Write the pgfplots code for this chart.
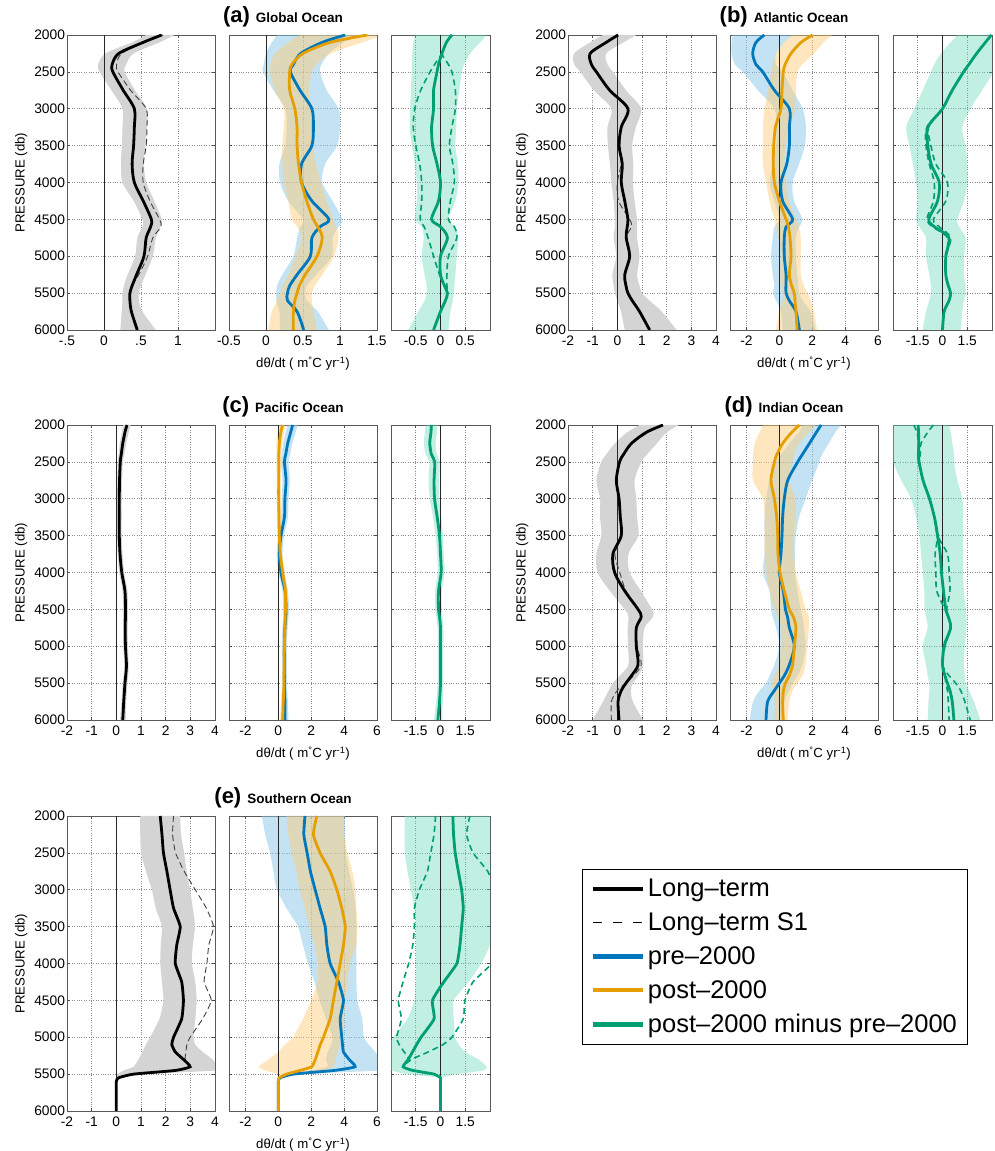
\documentclass[border=0pt]{standalone}
\usepackage{fontspec}
\setmainfont{Liberation Sans}
\usepackage{pgfplots}
\pgfplotsset{compat=1.18}
\usepackage{pgfplotstable}
\usepgfplotslibrary{fillbetween}

\definecolor{preblue}{RGB}{0,119,187}
\definecolor{postorange}{RGB}{230,159,0}
\definecolor{diffgreen}{RGB}{0,158,115}
\definecolor{bandblue}{RGB}{135,200,235}
\definecolor{bandorange}{RGB}{255,200,110}
\definecolor{bandgreen}{RGB}{100,215,180}
\definecolor{bandgray}{RGB}{212,212,212}

% p: pressure (db); lt/lo/hi: long-term and its band; s1: long-term S1
% pre/plo/phi: pre-2000; post/qlo/qhi: post-2000; d/dlo/dhi: difference; da/db: S1 difference
\pgfplotstableread{
p     lt    lo    hi    s1    pre   plo   phi   post  qlo   qhi   d     dlo   dhi   da    db
2000  0.78  0.57  0.95  0.80  1.07  0.15  1.30  1.37  0.46  1.60  0.23 -0.51  0.94  0.23  0.23
2100  0.53  0.38  0.75  0.55  0.76  0.08  1.05  0.87  0.30  1.30  0.12 -0.55  0.80  0.12  0.12
2250  0.20  0.02  0.40  0.24  0.47  0.00  0.85  0.50  0.12  0.88  0.03 -0.57  0.60  0.03  0.03
2400  0.11 -0.08  0.30  0.17  0.37 -0.03  0.75  0.35  0.06  0.68 -0.04 -0.58  0.48 -0.12  0.16
2500  0.12 -0.06  0.28  0.19  0.33 -0.04  0.73  0.32  0.05  0.62 -0.07 -0.58  0.43 -0.21  0.23
2750  0.26  0.10  0.42  0.36  0.46  0.10  0.82  0.32  0.12  0.58 -0.14 -0.60  0.38 -0.40  0.30
3000  0.41  0.25  0.58  0.57  0.62  0.26  0.98  0.39  0.24  0.62 -0.14 -0.61  0.33 -0.52  0.30
3250  0.41  0.25  0.58  0.58  0.64  0.28  1.00  0.42  0.24  0.64 -0.18 -0.62  0.32 -0.55  0.23
3500  0.40  0.24  0.56  0.57  0.62  0.26  0.96  0.42  0.22  0.64 -0.16 -0.58  0.30 -0.50  0.18
3750  0.38  0.23  0.54  0.53  0.48  0.18  0.80  0.44  0.22  0.68 -0.07 -0.52  0.35 -0.42  0.25
4000  0.41  0.25  0.57  0.53  0.48  0.19  0.76  0.48  0.24  0.74  0.00 -0.48  0.36 -0.38  0.28
4250  0.53  0.40  0.68  0.62  0.62  0.30  0.90  0.55  0.30  0.82 -0.04 -0.48  0.30 -0.38  0.20
4500  0.64  0.52  0.78  0.75  0.85  0.50  1.03  0.64  0.35  0.91 -0.18 -0.51  0.16 -0.41  0.16
4600  0.63  0.52  0.76  0.77  0.73  0.46  0.98  0.70  0.42  0.95  0.00 -0.38  0.30 -0.33  0.28
4750  0.57  0.45  0.70  0.66  0.62  0.42  0.90  0.76  0.48  0.98  0.14 -0.34  0.36 -0.25  0.33
5000  0.54  0.42  0.66  0.59  0.60  0.37  0.89  0.69  0.40  0.92  0.00 -0.38  0.33 -0.14  0.16
5250  0.44  0.32  0.56  0.47  0.42  0.22  0.68  0.53  0.30  0.76  0.00 -0.32  0.30 -0.02  0.13
5400  0.38  0.27  0.50  0.38  0.32  0.15  0.55  0.45  0.22  0.66  0.08 -0.28  0.28  0.08  0.13
5500  0.35  0.25  0.47  0.35  0.29  0.14  0.53  0.42  0.19  0.62  0.14 -0.28  0.27  0.14  0.14
5600  0.35  0.25  0.47  0.35  0.29  0.14  0.55  0.39  0.15  0.62  0.10 -0.32  0.25  0.10  0.10
5750  0.37  0.24  0.52  0.37  0.42  0.18  0.70  0.37  0.08  0.64  0.00 -0.45  0.20  0.00  0.00
6000  0.45  0.22  0.70  0.45  0.51  0.19  0.85  0.37  0.03  0.69 -0.14 -0.65  0.16 -0.14 -0.14
}\globaltab

\pgfplotstableread{
p     lt    lo    hi    s1    pre   plo   phi   post  qlo   qhi   d     dlo   dhi   da    db
2000  0.03 -0.58  0.77  0.03 -0.91 -2.84  0.81  2.03  0.80  3.20  2.96  0.90  3.20  2.96  2.96
2100 -0.45 -1.10  0.25 -0.45 -1.42 -2.90  0.30  1.32  0.30  2.70  2.60  0.50  3.20  2.60  2.60
2250 -1.10 -1.75 -0.45 -1.10 -1.62 -2.90 -0.20  0.71 -0.20  2.10  2.07 -0.10  3.20  2.07  2.07
2400 -1.05 -1.75 -0.40 -1.05 -1.42 -2.70 -0.20  0.35 -0.40  1.40  1.60 -0.50  3.20  1.60  1.60
2500 -0.85 -1.50 -0.18 -0.85 -1.01 -2.23  0.20  0.24 -0.50  1.10  1.28 -0.70  3.10  1.28  1.28
2750 -0.31 -0.95  0.35 -0.31 -0.30 -1.30  0.80  0.16 -0.70  1.00  0.59 -1.20  2.40  0.59  0.59
3000  0.43 -0.24  0.97  0.43  0.61 -0.30  1.42  0.10 -0.90  1.00  0.00 -1.70  1.70  0.00  0.00
3250  0.16 -0.40  0.75  0.16  0.61 -0.20  1.62 -0.24 -1.00  0.60 -0.89 -2.20  1.20 -0.95 -0.85
3500  0.07 -0.38  0.60  0.10  0.61 -0.20  1.55 -0.34 -1.00  0.40 -0.89 -2.00  1.40 -1.00 -0.70
3750  0.20 -0.30  0.65  0.15  0.45 -0.40  1.20 -0.37 -1.00  0.30 -0.69 -1.80  1.50 -0.80 -0.40
4000  0.16 -0.24  0.63  0.00  0.10 -0.60  0.80 -0.30 -0.80  0.40 -0.20 -1.60  1.50 -0.50  0.30
4250  0.30 -0.15  0.70  0.05  0.20 -0.30  0.90  0.00 -0.60  0.60 -0.30 -1.50  1.30 -0.55  0.20
4500  0.43 -0.10  0.80  0.50  0.81  0.00  1.40  0.41 -0.30  1.00 -0.83 -1.60  0.90 -0.95 -0.55
4600  0.40 -0.10  0.80  0.57  0.41 -0.30  1.20  0.55 -0.20  1.20 -0.49 -1.40  1.00 -0.60 -0.20
4750  0.36 -0.15  0.80  0.36  0.30 -0.40  1.00  0.65 -0.05  1.30  0.39 -1.00  1.40  0.30  0.50
5000  0.50 -0.05  0.90  0.50  0.30 -0.50  1.00  0.71  0.10  1.30  0.20 -1.00  1.30  0.20  0.20
5250  0.30 -0.20  0.80  0.30  0.41 -0.40  1.10  0.61  0.00  1.30  0.20 -0.80  1.30  0.20  0.20
5400  0.35 -0.15  0.90  0.35  0.40 -0.30  1.15  0.75  0.10  1.50  0.35 -0.70  1.40  0.35  0.35
5500  0.43 -0.10  1.00  0.43  0.41 -0.40  1.20  0.91  0.20  1.70  0.49 -0.70  1.40  0.49  0.49
5600  0.60  0.00  1.30  0.60  0.60 -0.20  1.40  0.95  0.20  1.90  0.40 -0.80  1.30  0.40  0.40
5750  0.90  0.15  1.80  0.90  1.01  0.10  1.90  1.01  0.00  2.10  0.10 -1.00  1.20  0.10  0.10
6000  1.31  0.30  2.40  1.31  1.22  0.20  2.20  1.08 -0.20  2.30  0.00 -1.20  1.10  0.00  0.00
}\atltab

\pgfplotstableread{
p     lt    lo    hi    pre   plo   phi   post  qlo   qhi   d     dlo   dhi
2000  0.43  0.28  0.58  0.87  0.55  1.20  0.26  0.05  0.45 -0.55 -0.90 -0.20
2100  0.35  0.22  0.50  0.75  0.45  1.05  0.15 -0.05  0.35 -0.58 -0.95 -0.22
2250  0.26  0.14  0.40  0.57  0.30  0.85  0.06 -0.12  0.25 -0.65 -1.00 -0.30
2400  0.20  0.09  0.32  0.45  0.20  0.72  0.03 -0.12  0.18 -0.55 -0.90 -0.22
2500  0.16  0.06  0.27  0.37  0.15  0.62  0.02 -0.12  0.16 -0.35 -0.68 -0.05
2750  0.13  0.04  0.23  0.47  0.25  0.70  0.02 -0.10  0.14 -0.39 -0.72 -0.08
3000  0.12  0.03  0.22  0.40  0.20  0.62  0.02 -0.10  0.14 -0.36 -0.65 -0.08
3250  0.12  0.03  0.22  0.37  0.17  0.58  0.04 -0.08  0.16 -0.20 -0.45  0.05
3500  0.12  0.03  0.22  0.16  0.00  0.35  0.06 -0.06  0.18 -0.06 -0.30  0.15
3750  0.15  0.06  0.25  0.06 -0.10  0.25  0.12  0.00  0.24  0.00 -0.20  0.20
4000  0.22  0.12  0.32  0.16  0.00  0.35  0.26  0.12  0.40  0.04 -0.18  0.25
4250  0.35  0.25  0.45  0.41  0.25  0.58  0.43  0.30  0.56 -0.12 -0.32  0.08
4500  0.37  0.27  0.47  0.47  0.30  0.65  0.43  0.30  0.56 -0.12 -0.32  0.08
4600  0.37  0.27  0.47  0.45  0.30  0.62  0.42  0.30  0.55 -0.06 -0.25  0.12
4750  0.36  0.27  0.46  0.40  0.25  0.56  0.40  0.28  0.52  0.00 -0.18  0.18
5000  0.37  0.28  0.47  0.37  0.22  0.52  0.37  0.25  0.50  0.00 -0.18  0.18
5250  0.41  0.32  0.50  0.37  0.22  0.52  0.36  0.24  0.48  0.00 -0.17  0.17
5400  0.38  0.29  0.48  0.37  0.22  0.52  0.35  0.23  0.47  0.00 -0.17  0.17
5500  0.35  0.26  0.45  0.37  0.22  0.52  0.35  0.23  0.47  0.00 -0.17  0.17
5600  0.33  0.24  0.43  0.38  0.22  0.54  0.33  0.21  0.46 -0.02 -0.20  0.16
5750  0.30  0.21  0.40  0.40  0.22  0.58  0.30  0.17  0.44 -0.06 -0.26  0.14
6000  0.26  0.15  0.38  0.41  0.20  0.62  0.26  0.10  0.42 -0.16 -0.40  0.10
}\pactab

\pgfplotstableread{
p     lt    lo    hi    s1    pre   plo   phi   post  qlo   qhi   d     dlo   dhi   da    db
2000  1.85  0.90  2.50  1.85  2.54  1.42  3.75  1.22 -1.00  2.20 -1.48 -3.20  0.40 -1.75 -0.55
2100  1.17  0.40  2.00  1.25  2.25  1.20  3.40  0.75 -1.20  1.80 -1.45 -3.20  0.50 -1.55 -0.90
2250  0.57 -0.10  1.60  0.60  1.83  0.60  3.00  0.20 -1.50  1.20 -1.44 -3.20  0.60 -1.45 -1.30
2400  0.25 -0.45  1.20  0.25  1.40  0.10  2.60 -0.15 -1.60  0.90 -1.45 -3.10  0.70 -1.50 -1.35
2500  0.09 -0.65  0.97  0.09  1.12 -0.20  2.43 -0.30 -1.60  0.80 -1.42 -3.00  0.70 -1.45 -1.40
2750 -0.04 -0.85  0.70 -0.04  0.51 -0.60  2.00 -0.51 -1.60  0.60 -1.18 -2.50  0.90 -1.18 -1.18
3000  0.07 -0.70  0.77  0.07  0.30 -0.80  1.60 -0.30 -1.00  1.00 -0.79 -1.90  1.20 -0.79 -0.79
3250  0.12 -0.70  0.80  0.12  0.20 -0.90  1.20 -0.16 -0.90  1.00 -0.49 -1.60  1.25 -0.49 -0.49
3500  0.16 -0.65  0.85  0.16  0.16 -0.90  1.00 -0.10 -0.90  0.90 -0.30 -1.40  1.25 -0.30 -0.30
3750 -0.18 -0.85  0.45 -0.10  0.10 -0.90  0.95 -0.08 -0.90  0.90 -0.14 -1.30  1.25 -0.45  0.30
4000 -0.11 -0.80  0.50  0.10  0.00 -1.00  0.95  0.04 -0.80  1.00 -0.06 -1.20  1.25 -0.40  0.40
4250  0.30 -0.30  0.95  0.35  0.24 -0.60  1.10  0.30 -0.60  1.30  0.06 -1.10  1.30 -0.35  0.45
4500  0.84  0.30  1.40  0.84  0.37 -0.50  1.30  0.61 -0.30  1.60  0.20 -1.10  1.40  0.15  0.25
4600  0.97  0.45  1.45  0.97  0.50 -0.40  1.40  0.85 -0.10  1.80  0.35 -1.00  1.45  0.35  0.35
4750  0.77  0.42  1.10  0.77  0.61 -0.20  1.50  1.01  0.10  1.80  0.49 -0.90  1.45  0.49  0.49
5000  0.77  0.43  1.04  0.80  0.91  0.00  1.60  0.91  0.10  1.70  0.10 -1.20  1.35  0.05  0.15
5250  0.84  0.45  1.05  0.97  0.61 -0.30  1.40  0.81  0.00  1.60  0.00 -1.00  1.30  0.00  0.00
5400  0.57  0.10  0.85  0.65  0.30 -0.60  1.10  0.60 -0.30  1.40  0.15 -0.90  1.35  0.15  0.40
5500  0.35 -0.18  0.63  0.35  0.00 -0.80  0.80  0.37 -0.50  1.10  0.30 -0.80  1.40  0.20  0.80
5600  0.16 -0.35  0.55  0.00 -0.30 -1.20  0.60  0.25 -0.40  0.80  0.45 -0.80  1.60  0.30  1.10
5750  0.03 -0.58  0.63 -0.24 -0.71 -1.60  0.30  0.20 -0.30  0.60  0.59 -0.85  1.90  0.35  1.35
6000  0.07 -1.00  1.04 -0.24 -0.81 -1.80  0.20  0.24 -0.30  0.50  0.69 -0.90  2.30  0.40  1.68
}\indtab

\pgfplotstableread{
p     lt    lo    hi    s1    pre   plo   phi   post  qlo   qhi   d     dlo   dhi   da    db
2000  1.78  0.97  2.59  2.32  1.62 -1.00  4.05  2.34  0.50  4.00  0.75 -2.17  3.20 -0.30  1.78
2250  1.85  0.97  2.62  2.28  1.55 -0.80  4.05  2.13  0.60  4.00  0.79 -2.17  3.20 -0.39  1.58
2500  1.91  1.00  2.75  2.40  1.75 -0.50  4.10  2.54  0.80  4.20  0.89 -2.17  3.20 -0.59  1.97
2750  2.05  1.20  2.85  2.75  1.95 -0.30  4.30  3.15  1.10  4.50  1.08 -2.00  3.20 -0.79  2.86
3000  2.18  1.44  2.99  3.20  2.24 -0.10  4.55  3.56  1.30  4.70  1.28 -1.80  3.20 -1.28  3.30
3250  2.32  1.60  3.10  3.65  2.54  0.50  4.70  3.86  1.60  4.75  1.38 -1.60  3.20 -1.58  3.40
3500  2.59  1.85  3.19  3.94  2.85  1.20  4.75  4.07  1.90  4.80  1.28 -1.50  3.20 -1.58  3.40
3750  2.45  1.80  3.10  3.75  2.95  1.50  4.75  3.96  2.20  4.75  1.18 -1.50  3.00 -1.68  3.30
4000  2.39  1.78  3.06  3.67  3.15  1.80  4.75  3.76  2.40  4.35  0.99 -1.48  2.47 -1.93  3.10
4250  2.65  1.85  3.20  3.56  3.66  2.20  4.75  3.56  2.40  4.20  0.20 -1.50  1.70 -2.27  1.97
4500  2.72  1.91  3.26  3.85  3.96  2.50  4.80  3.35  2.00  4.10 -0.49 -1.58  0.79 -2.56  1.48
4750  2.65  1.75  3.20  3.50  3.76  2.90  5.10  3.15  1.50  4.00 -0.39 -2.00  0.80 -2.37  1.38
5000  2.32  1.37  3.13  2.99  3.86  3.30  5.20  2.74  0.90  3.80 -1.18 -2.86  0.89 -2.66  0.69
5100  2.25  1.20  3.20  2.86  3.90  3.20  5.50  2.55  0.40  3.70 -1.45 -3.20  1.10 -2.50  0.15
5200  2.39  1.05  3.50  2.82  3.96  3.00  5.90  2.40  0.00  3.60 -1.70 -3.20  1.50 -2.20 -0.75
5300  2.72  0.90  3.90  2.79  4.30  2.90  6.20  2.25 -0.60  3.50 -1.95 -3.20  2.30 -1.90 -1.75
5400  2.99  0.70  4.10  2.95  4.67  3.00  6.20  2.03 -1.20  3.35 -2.27 -3.20  2.80 -2.27 -2.27
5450  2.40  0.30  4.10  2.40  3.40  2.00  6.20  1.32 -0.80  2.80 -1.68 -3.00  2.60 -1.68 -1.68
5500  0.70  0.05  1.20  0.70  0.90  0.50  1.50  0.50  0.00  1.00 -0.39 -2.00  1.00 -0.39 -0.39
5550  0.09  0.00  0.15  0.09  0.10  0.00  0.30  0.05  0.00  0.10  0.00  0.00  0.00  0.00  0.00
5600  0.00  0.00  0.00  0.00  0.00  0.00  0.00  0.00  0.00  0.00  0.00  0.00  0.00  0.00  0.00
5750  0.00  0.00  0.00  0.00  0.00  0.00  0.00  0.00  0.00  0.00  0.00  0.00  0.00  0.00  0.00
6000  0.00  0.00  0.00  0.00  0.00  0.00  0.00  0.00  0.00  0.00  0.00  0.00  0.00  0.00  0.00
}\soutab

\pgfplotsset{
  sm/.style={smooth, tension=0.5},
  lt line/.style={black, line width=2.8pt, sm},
  s1 line/.style={black!75, line width=0.9pt, dash pattern=on 6pt off 3.5pt, sm},
  pre line/.style={preblue, line width=2.8pt, sm},
  post line/.style={postorange, line width=2.8pt, sm},
  d line/.style={diffgreen, line width=2.8pt, sm},
  ds line/.style={diffgreen, line width=1.6pt, dash pattern=on 6pt off 4pt, sm},
  zero line/.style={black!85, line width=0.8pt},
  prof/.style={
    scale only axis, height=295pt, anchor=north west,
    y dir=reverse, ymin=2000, ymax=6000,
    ytick={2000,2500,3000,3500,4000,4500,5000,5500,6000},
    yticklabels={},
    xmajorgrids, ymajorgrids,
    grid style={dotted, black!45, line width=0.7pt},
    axis line style={black!65, line width=0.7pt},
    major tick length=3pt, tick align=inside,
    tick style={black!70, line width=0.6pt},
    ticklabel style={font=\fontsize{13.8}{16}\selectfont},
    xticklabel style={yshift=-2pt},
    yticklabel style={xshift=1.5pt},
    label style={font=\fontsize{13.2}{16}\selectfont},
  },
  col1/.style={prof, width=148pt, ylabel={PRESSURE (db)},
    yticklabels={2000,2500,3000,3500,4000,4500,5000,5500,6000}},
  col2/.style={prof, width=148pt,
    xlabel={dθ/dt ( m\textsuperscript{°}C yr\textsuperscript{-1})},
    xlabel style={yshift=-5pt},
    title style={at={(0.5,1)}, anchor=base, yshift=6pt, xshift=-20pt}},
  col3/.style={prof, width=99pt},
  wide1/.style={xmin=-2, xmax=4, xtick={-2,-1,0,1,2,3,4}, xticklabels={-2,-1,0,1,2,3,4}},
  wide2/.style={xmin=-3, xmax=6, xtick={-2,0,2,4,6}, xticklabels={-2,0,2,4,6}},
  wide3/.style={xmin=-3, xmax=3, xtick={-1.5,0,1.5}, xticklabels={-1.5,0,1.5}},
}

\newcommand{\ptitle}[2]{{\fontsize{22}{22}\selectfont\bfseries(#1)}\hspace{6pt}{\fontsize{13.5}{15}\selectfont\bfseries #2}}

\newcommand{\band}[5]{%
  \addplot[draw=none, sm, name path=#5L] table[x=#2, y=p] {#1};
  \addplot[draw=none, sm, name path=#5H] table[x=#3, y=p] {#1};
  \addplot[#4] fill between[of=#5L and #5H, reverse=true];
}
\newcommand{\zeroline}{\addplot[zero line] coordinates {(0,2000) (0,6000)};}

\newcommand{\panelleft}[2]{%
  \band{#1}{lo}{hi}{fill=bandgray, draw=none}{#2g}
  \zeroline
  \addplot[s1 line] table[x=s1, y=p] {#1};
  \addplot[lt line] table[x=lt, y=p] {#1};
}
\newcommand{\panelmid}[2]{%
  \band{#1}{plo}{phi}{fill=bandblue, fill opacity=0.5, draw=none}{#2b}
  \band{#1}{qlo}{qhi}{fill=bandorange, fill opacity=0.45, draw=none}{#2o}
  \zeroline
  \addplot[pre line] table[x=pre, y=p] {#1};
  \addplot[post line] table[x=post, y=p] {#1};
}
\newcommand{\panelright}[2]{%
  \band{#1}{dlo}{dhi}{fill=bandgreen, fill opacity=0.4, draw=none}{#2d}
  \zeroline
  \addplot[ds line] table[x=da, y=p] {#1};
  \addplot[ds line] table[x=db, y=p] {#1};
  \addplot[d line] table[x=d, y=p] {#1};
}

\begin{document}
\begin{tikzpicture}

% (a) Global Ocean
\begin{axis}[col1, at={(67pt,1116pt)}, xmin=-0.5, xmax=1.5,
  xtick={-0.5,0,0.5,1}, xticklabels={-.5,0,.5,1}]
\panelleft{\globaltab}{a1}
\end{axis}
\begin{axis}[col2, at={(229pt,1116pt)}, xmin=-0.5, xmax=1.5,
  xtick={-0.5,0,0.5,1,1.5}, xticklabels={-0.5,0,0.5,1,1.5},
  title={\ptitle{a}{Global Ocean}}]
\panelmid{\globaltab}{a2}
\end{axis}
\begin{axis}[col3, at={(391pt,1116pt)}, xmin=-1, xmax=1,
  xtick={-0.5,0,0.5}, xticklabels={-0.5,0,0.5}]
\panelright{\globaltab}{a3}
\end{axis}

% (b) Atlantic Ocean
\begin{axis}[col1, wide1, at={(568pt,1116pt)}]
\panelleft{\atltab}{b1}
\end{axis}
\begin{axis}[col2, wide2, at={(730pt,1116pt)}, title={\ptitle{b}{Atlantic Ocean}}]
\panelmid{\atltab}{b2}
\end{axis}
\begin{axis}[col3, wide3, at={(893pt,1116pt)}]
\panelright{\atltab}{b3}
\end{axis}

% (c) Pacific Ocean
\begin{axis}[col1, wide1, at={(67pt,726pt)}]
\band{\pactab}{lo}{hi}{fill=bandgray, draw=none}{c1g}
\zeroline
\addplot[lt line] table[x=lt, y=p] {\pactab};
\end{axis}
\begin{axis}[col2, wide2, at={(229pt,726pt)}, title={\ptitle{c}{Pacific Ocean}}]
\panelmid{\pactab}{c2}
\end{axis}
\begin{axis}[col3, wide3, at={(391pt,726pt)}]
\band{\pactab}{dlo}{dhi}{fill=bandgreen, fill opacity=0.4, draw=none}{c3d}
\zeroline
\addplot[d line] table[x=d, y=p] {\pactab};
\end{axis}

% (d) Indian Ocean
\begin{axis}[col1, wide1, at={(568pt,726pt)}]
\panelleft{\indtab}{d1}
\end{axis}
\begin{axis}[col2, wide2, at={(730pt,726pt)}, title={\ptitle{d}{Indian Ocean}}]
\panelmid{\indtab}{d2}
\end{axis}
\begin{axis}[col3, wide3, at={(893pt,726pt)}]
\panelright{\indtab}{d3}
\end{axis}

% (e) Southern Ocean
\pgfplotsset{sm/.style={smooth, tension=0.3}}
\begin{axis}[col1, wide1, at={(67pt,335pt)}]
\panelleft{\soutab}{e1}
\end{axis}
\begin{axis}[col2, wide2, at={(229pt,335pt)}, title={\ptitle{e}{Southern Ocean}}]
\panelmid{\soutab}{e2}
\end{axis}
\begin{axis}[col3, wide3, at={(391pt,335pt)}]
\panelright{\soutab}{e3}
\end{axis}

% legend
\begin{axis}[hide axis, scale only axis, width=380pt, height=178pt,
  at={(582pt,282pt)}, anchor=north west, xmin=0, xmax=1, ymin=0, ymax=1,
  legend style={at={(0,1)}, anchor=north west, draw=black, line width=0.8pt,
    inner sep=8pt, font=\fontsize{25.5}{30}\selectfont,
    nodes={inner sep=2pt}, /tikz/row sep=10.5pt, /tikz/column sep=1pt},
  legend cell align=left,
  legend image code/.code={\draw[#1] (0pt,0pt) -- (50pt,0pt);}]
\addplot[draw=none, forget plot] coordinates {(0,0) (1,1)};
\addlegendimage{black, line width=4.5pt}
\addlegendentry{Long–term}
\addlegendimage{black, line width=1.6pt, dash pattern=on 9pt off 11pt}
\addlegendentry{Long–term S1}
\addlegendimage{preblue, line width=4.5pt}
\addlegendentry{pre–2000}
\addlegendimage{postorange, line width=4.5pt}
\addlegendentry{post–2000}
\addlegendimage{diffgreen, line width=4.5pt}
\addlegendentry{post–2000 minus pre–2000}
\end{axis}

\pgfresetboundingbox
\path[use as bounding box] (0pt,0pt) rectangle (994pt,1151pt);
\end{tikzpicture}
\end{document}
